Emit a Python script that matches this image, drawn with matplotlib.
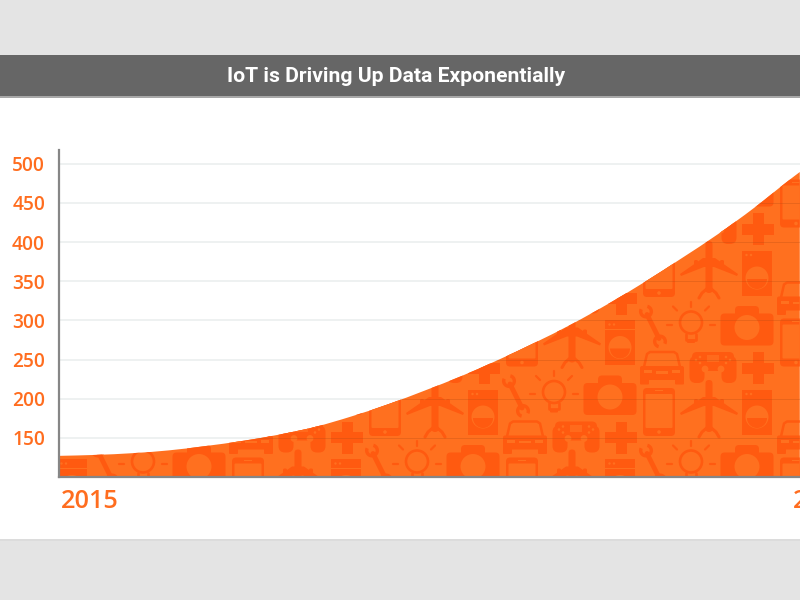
import numpy as np
import matplotlib
matplotlib.use("Agg")
import matplotlib.pyplot as plt
from matplotlib.patches import Rectangle, FancyBboxPatch, Circle, Wedge, Polygon, PathPatch
from matplotlib.path import Path
from matplotlib.transforms import Affine2D

# values
years = [2015, 2015.25, 2015.5, 2015.75, 2016, 2016.25, 2016.5, 2016.75, 2017, 2017.25, 2017.5,
         2017.75, 2018, 2018.25, 2018.5, 2018.75, 2019, 2019.25, 2019.5, 2019.75, 2020, 2020.06]
values = [127, 128.2, 130.4, 134, 139.5, 146, 154, 164, 177.5, 193, 210.5,
          229, 249.5, 271.5, 295, 321, 349, 379, 410, 444, 481, 489.5]
y_ticks = [150, 200, 250, 300, 350, 400, 450, 500]
x_ticks = [2015, 2020]
title = "IoT is Driving Up Data Exponentially"

ORANGE = "#ff701f"
DARK = "#ff5a10"
TEXT = "#ff6d1f"

fig = plt.figure(figsize=(8, 6), dpi=100, facecolor="white")
fig.add_artist(Rectangle((0, 0.9083), 1, 0.0917, transform=fig.transFigure, color="#e4e4e4", lw=0))
fig.add_artist(Rectangle((0, 0.8383), 1, 0.07, transform=fig.transFigure, color="#666666", lw=0))
fig.add_artist(Rectangle((0, 0.8367), 1, 0.003, transform=fig.transFigure, color="#a8a8a8", lw=0))
fig.add_artist(Rectangle((0, 0), 1, 0.1, transform=fig.transFigure, color="#e4e4e4", lw=0))
fig.add_artist(Rectangle((0, 0.0983), 1, 0.003, transform=fig.transFigure, color="#dcdcdc", lw=0))
fig.text(0.4945, 0.8725, title, color="white", ha="center", va="center", fontsize=15.2,
         family="Roboto", fontweight="bold")

ax = fig.add_axes([59 / 800, 123 / 600, 741 / 800, 327 / 600], facecolor="none")
ax.set_xlim(2015, 2015 + 741 / 146.4)
ax.set_ylim(100, 100 + 327 / 0.783)

ax.set_yticks(y_ticks)
ax.set_xticks(x_ticks)
ax.set_xticklabels([str(x) for x in x_ticks], ha="left", color=TEXT, fontsize=18.2,
                   family="Open Sans", fontweight="semibold")
ax.set_yticklabels([str(y) for y in y_ticks], color=TEXT, fontsize=13.8,
                   family="Open Sans", fontweight="semibold")
ax.tick_params(axis="both", length=0)
ax.tick_params(axis="y", pad=10)
ax.tick_params(axis="x", pad=9)
for lab in ax.get_xticklabels():
    lab.set_transform(lab.get_transform() + Affine2D().translate(2, 0))
ax.grid(axis="y", color="#e9eeee", lw=1.1, zorder=0)
ax.set_axisbelow(True)
for s in ["top", "right"]:
    ax.spines[s].set_visible(False)
for s in ["left", "bottom"]:
    ax.spines[s].set_color("#868686")
    ax.spines[s].set_linewidth(1.6)
    ax.spines[s].set_zorder(6)

# top edge of the area: smooth curve through the read values
xs = np.array(years)
ys = np.array(values)
slopes = np.gradient(ys, xs)
verts = [(xs[0], 100), (xs[0], ys[0])]
codes = [Path.MOVETO, Path.LINETO]
for k in range(len(xs) - 1):
    h = (xs[k + 1] - xs[k]) / 3
    verts += [(xs[k] + h, ys[k] + slopes[k] * h), (xs[k + 1] - h, ys[k + 1] - slopes[k + 1] * h), (xs[k + 1], ys[k + 1])]
    codes += [Path.CURVE4] * 3
verts += [(xs[-1], 100), (xs[0], 100)]
codes += [Path.LINETO, Path.CLOSEPOLY]
area_path = Path(verts, codes)
ax.add_patch(PathPatch(area_path, fc=ORANGE, ec="none", zorder=2))

px = Affine2D().scale(1, -1).translate(0, 600)


def put(p):
    p.set_transform(px)
    p.set_zorder(3)
    ax.add_patch(p)
    p.set_clip_path(area_path, ax.transData)


def box(x, y, w, h, c=DARK, r=0.0):
    if r:
        put(FancyBboxPatch((x, y), w, h, boxstyle=f"round,pad=0,rounding_size={r}", fc=c, ec="none"))
    else:
        put(Rectangle((x, y), w, h, fc=c, ec="none"))


def dot(x, y, r, c=DARK):
    put(Circle((x, y), r, fc=c, ec="none"))


def line(points, lw=1.8):
    put(Polygon(points, closed=False, fill=False, ec=DARK, lw=lw, capstyle="round", joinstyle="round"))


def camera(x, y):
    box(x - 26.5, y - 12, 53, 32, r=4)
    box(x - 12, y - 19.5, 24, 12, r=4)
    dot(x, y + 2, 12.5, ORANGE)


def phone(x, y):
    box(x - 16, y - 24, 32, 48, r=4)
    box(x - 13.5, y - 18, 27, 34, ORANGE, r=1)
    dot(x, y + 20, 1.8, ORANGE)
    box(x - 4, y - 22, 8, 1.2, ORANGE)


def plane(x, y):
    box(x - 3.5, y - 32, 7, 52, r=3.4)
    put(Polygon([(x - 29, y + 1), (x - 6, y - 15), (x + 6, y - 15), (x + 29, y + 1), (x + 28, y + 3),
                 (x + 5, y - 6), (x - 5, y - 6), (x - 28, y + 3)], fc=DARK, ec="none"))
    box(x - 15, y - 13, 4, 7, r=1.5)
    box(x + 11, y - 13, 4, 7, r=1.5)
    line([(x - 10, y + 25), (x - 7, y + 20), (x, y + 14), (x + 7, y + 20), (x + 10, y + 25)], lw=2.2)


def washer(x, y):
    box(x - 15, y - 22.5, 30, 45)
    box(x - 15, y - 13.5, 30, 0.9, ORANGE)
    dot(x - 10.5, y - 18, 1.2, ORANGE)
    dot(x - 6, y - 18, 1.2, ORANGE)
    dot(x, y + 5, 11.5, ORANGE)
    put(Wedge((x, y + 6), 10, 0, 180, fc=DARK, ec="none"))


def wrench(x, y):
    line([(x - 6, y - 12), (x + 6, y + 12)], lw=3.5)
    put(Wedge((x - 7, y - 15), 7, 285, 205, width=3.4, fc=DARK, ec="none"))
    put(Wedge((x + 7, y + 15), 7, 105, 25, width=3.4, fc=DARK, ec="none"))


def bulb(x, y):
    put(Circle((x, y - 5), 11, fc="none", ec=DARK, lw=1.9))
    line([(x - 5, y + 6), (x - 5, y + 12), (x + 5, y + 12), (x + 5, y + 6)], lw=1.9)
    box(x - 4, y + 12, 8, 3.5, r=1)
    line([(x, y - 26), (x, y - 21)], lw=1.6)
    line([(x - 18, y - 21), (x - 14, y - 17)], lw=1.6)
    line([(x + 18, y - 21), (x + 14, y - 17)], lw=1.6)
    line([(x - 24, y - 3), (x - 19, y - 3)], lw=1.6)
    line([(x + 19, y - 3), (x + 24, y - 3)], lw=1.6)


def plus(x, y):
    box(x - 16, y - 5.5, 32, 11)
    box(x - 5.5, y - 16, 11, 32)


def car(x, y):
    line([(x - 18, y - 1), (x - 15, y - 14), (x - 12, y - 16), (x + 12, y - 16), (x + 15, y - 14), (x + 18, y - 1)], lw=1.8)
    box(x - 22, y - 2, 44, 14, r=2)
    box(x - 22, y + 10, 9, 6.5, r=1)
    box(x + 13, y + 10, 9, 6.5, r=1)
    box(x - 18, y + 2, 8, 3, ORANGE)
    box(x + 10, y + 2, 8, 3, ORANGE)
    box(x - 6, y + 3, 12, 2.5, ORANGE)


def gamepad(x, y):
    box(x - 21, y - 16, 42, 19, r=5)
    put(FancyBboxPatch((x - 23.5, y - 12), 15, 27, boxstyle="round,pad=0,rounding_size=6.5", fc=DARK, ec="none"))
    put(FancyBboxPatch((x + 8.5, y - 12), 15, 27, boxstyle="round,pad=0,rounding_size=6.5", fc=DARK, ec="none"))
    dot(x - 8, y + 1, 3.4, ORANGE)
    dot(x + 8, y + 1, 3.4, ORANGE)
    box(x - 6, y - 13, 12, 7, "#ff6a1c")
    for dx, dy in [(-17, -8), (-13, -11), (-13, -5), (17, -8), (13, -11), (13, -5)]:
        dot(x + dx, y + dy, 1.3, ORANGE)


# the icon pattern repeats on a staggered grid
for i in range(-6, 2):
    for j in range(-6, 2):
        if (i + j) % 2:
            continue
        bx = 709 + 137 * i
        by = 412 + 69.5 * j
        plane(bx, by)
        phone(bx - 50, by)
        washer(bx + 48, by)
        camera(bx - 99, by - 17)
        bulb(bx - 155, by - 15)
        wrench(bx - 193, by - 16)
        car(bx - 47, by - 44)
        gamepad(bx + 4, by - 44)
        plus(bx + 49, by - 44)

# grid shows through the area as thin dark lines
for y in y_ticks:
    gl = ax.axhline(y, color="#b04a14", lw=0.5, alpha=0.4, zorder=4)
    gl.set_clip_path(area_path, ax.transData)

fig.savefig("out.png", dpi=100)
